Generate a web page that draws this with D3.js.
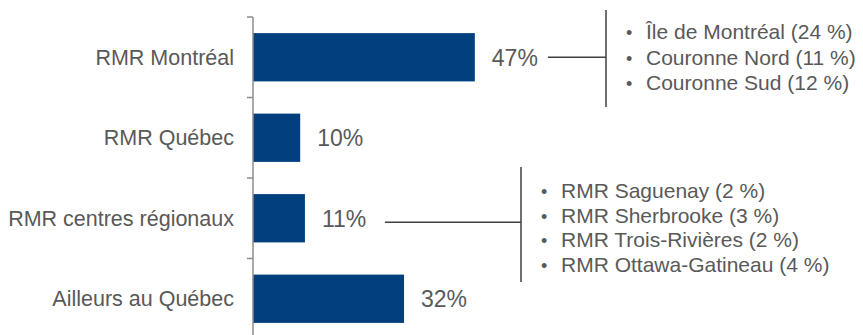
<!DOCTYPE html>
<html>
<head>
<meta charset="utf-8">
<script src="https://cdn.jsdelivr.net/npm/d3@7"></script>
<style>
    body { margin: 0; background: #fff; }
    svg { display: block; }
    text { font-family: "Liberation Sans", Arial, sans-serif; }
</style>
</head>
<body>
<svg id="container"></svg>
<script>
// Share of the total by region
var categories = ["RMR Montréal", "RMR Québec", "RMR centres régionaux", "Ailleurs au Québec"];
var shares = [47, 10, 11, 32];

// Breakdown lists shown to the right of two bars
var montrealParts = ["Île de Montréal (24 %)", "Couronne Nord (11 %)", "Couronne Sud (12 %)"];
var regionalParts = ["RMR Saguenay (2 %)", "RMR Sherbrooke (3 %)", "RMR Trois-Rivières (2 %)", "RMR Ottawa-Gatineau (4 %)"];

function drawChart()
{
    const width = 863, height = 335;
    const svg = d3.select('#container').attr("width", width).attr("height", height);

    const x = d3.scaleLinear().domain([0, 50]).range([253, 253 + 50 * 4.72]);
    const y = d3.scaleBand().domain(categories).range([17, 339])
        .paddingInner(0.4).paddingOuter(0.2);

    var data = categories.map((c, i) => ({ name: c, value: shares[i] }));

    // Bars
    svg.append("g").selectAll("rect").data(data).join("rect")
        .attr("x", x(0))
        .attr("y", d => y(d.name))
        .attr("width", d => x(d.value) - x(0))
        .attr("height", y.bandwidth())
        .attr("fill", "#023f7f");

    // Category axis: line plus ticks on band boundaries
    const axis = svg.append("g");
    axis.append("line")
        .attr("x1", x(0)).attr("x2", x(0))
        .attr("y1", 17).attr("y2", height)
        .attr("stroke", "#8c8c8c").attr("stroke-width", 1.5);
    var bounds = categories.map(c => y(c) - y.step() * 0.2);
    axis.selectAll("line.tick").data(bounds).join("line")
        .attr("class", "tick")
        .attr("x1", x(0) - 6).attr("x2", x(0))
        .attr("y1", d => d).attr("y2", d => d)
        .attr("stroke", "#8c8c8c").attr("stroke-width", 1.5);
    axis.selectAll("text").data(data).join("text")
        .attr("x", x(0) - 19)
        .attr("y", d => y(d.name) + y.bandwidth() / 2)
        .attr("dy", "0.35em")
        .attr("text-anchor", "end")
        .attr("font-size", 21.5)
        .attr("fill", "#595959")
        .text(d => d.name);

    // Value labels
    svg.append("g").selectAll("text").data(data).join("text")
        .attr("x", d => x(d.value) + 17)
        .attr("y", d => y(d.name) + y.bandwidth() / 2)
        .attr("dy", "0.36em")
        .attr("font-size", 23)
        .attr("fill", "#595959")
        .text(d => d.value + "%");

    // Bracket with a list of parts
    function drawBreakdown(parts, xStart, xBracket, lineY, top, bottom, firstBaseline, lineGap)
    {
        const g = svg.append("g");
        g.append("line")
            .attr("x1", xStart).attr("x2", xBracket)
            .attr("y1", lineY).attr("y2", lineY)
            .attr("stroke", "#404040").attr("stroke-width", 1.5);
        g.append("line")
            .attr("x1", xBracket).attr("x2", xBracket)
            .attr("y1", top).attr("y2", bottom)
            .attr("stroke", "#404040").attr("stroke-width", 1.5);
        g.selectAll("text.bullet").data(parts).join("text")
            .attr("class", "bullet")
            .attr("x", xBracket + 20)
            .attr("y", (d, i) => firstBaseline + i * lineGap)
            .attr("font-size", 18)
            .attr("fill", "#595959")
            .text("•");
        g.selectAll("text.item").data(parts).join("text")
            .attr("class", "item")
            .attr("x", xBracket + 40)
            .attr("y", (d, i) => firstBaseline + i * lineGap)
            .attr("font-size", 21)
            .attr("fill", "#595959")
            .text(d => d);
    }

    const yMtl = y(categories[0]) + y.bandwidth() / 2;
    drawBreakdown(montrealParts, x(shares[0]) + 73, 606, yMtl, 10, 107, 39, 25.5);
    const yReg = y(categories[2]) + y.bandwidth() / 2 + 4;
    drawBreakdown(regionalParts, x(shares[2]) + 80, 521, yReg, 167, 282, 198, 24.5);
}

drawChart();
</script>
</body>
</html>
